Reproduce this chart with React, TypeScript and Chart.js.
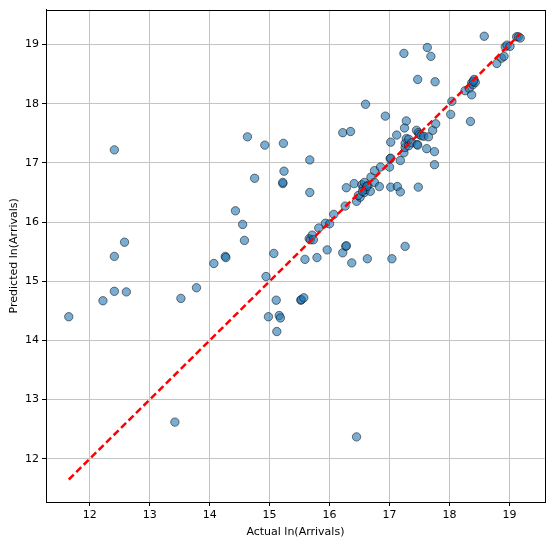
import React, { useEffect, useRef } from "react";
import { Chart, registerables } from "chart.js";

Chart.register(...registerables);

const actual: number[] = [
  11.65, 12.22, 12.41, 12.61, 12.41, 12.58, 12.41, 13.42, 13.52, 13.78,
  14.07, 14.26, 14.27, 14.43, 14.55, 14.58, 14.63, 14.75, 14.92, 14.94,
  14.98, 15.07, 15.11, 15.12, 15.16, 15.18, 15.23, 15.24, 15.22, 15.22,
  15.52, 15.53, 15.57, 15.59, 15.67, 15.67, 15.79, 15.96, 15.66, 15.68,
  15.71, 15.73, 15.82, 15.93, 16.0, 16.07, 16.22, 16.27, 16.28, 16.37,
  16.63, 17.04, 17.26, 16.45, 16.22, 16.35, 16.26, 16.28, 16.41, 16.45,
  16.51, 16.54, 16.56, 16.58, 16.58, 16.6, 16.64, 16.68, 16.69, 16.75,
  16.75, 16.83, 16.85, 17.0, 17.01, 17.02, 17.02, 17.13, 17.18, 17.18,
  17.48, 16.6, 16.93, 17.02, 17.12, 17.24, 17.25, 17.26, 17.26, 17.28,
  17.28, 17.32, 17.32, 17.37, 17.45, 17.46, 17.47, 17.48, 17.5, 17.53,
  17.57, 17.62, 17.65, 17.72, 17.77, 17.75, 17.75, 17.24, 17.47, 17.63,
  17.69, 17.76, 18.02, 18.04, 18.35, 18.26, 18.33, 18.37, 18.37, 18.39,
  18.41, 18.43, 18.4, 18.58, 18.79, 18.87, 18.91, 18.93, 18.96, 19.01,
  19.12, 19.15, 19.18, 16.48, 16.62, 16.55,
];

const predicted: number[] = [
  14.4, 14.67, 14.83, 14.82, 15.42, 15.66, 17.22, 12.62, 14.71, 14.89,
  15.3, 15.42, 15.4, 16.19, 15.96, 15.69, 17.44, 16.74, 17.3, 15.08,
  14.4, 15.47, 14.68, 14.15, 14.42, 14.38, 17.33, 16.86, 16.65, 16.67,
  14.68, 14.69, 14.72, 15.37, 17.05, 16.5, 15.4, 15.53, 15.72, 15.7,
  15.78, 15.7, 15.9, 15.98, 15.97, 16.13, 15.48, 15.59, 15.6, 15.31,
  15.38, 15.38, 15.59, 12.37, 17.51, 17.53, 16.27, 16.58, 16.65, 16.35,
  16.42, 16.63, 16.58, 16.67, 16.5, 16.55, 16.62, 16.52, 16.76, 16.67,
  16.87, 16.6, 16.93, 16.93, 17.07, 17.08, 16.59, 16.6, 16.51, 17.04,
  16.59, 17.99, 17.79, 17.35, 17.47, 17.17, 17.59, 17.26, 17.33, 17.71,
  17.41, 17.29, 17.4, 17.34, 17.55, 17.31, 17.3, 17.51, 17.48, 17.46,
  17.45, 17.24, 17.44, 17.55, 17.66, 17.19, 16.97, 18.85, 18.41, 18.95,
  18.8, 18.37, 17.82, 18.04, 17.7, 18.22, 18.26, 18.15, 18.35, 18.32,
  18.41, 18.36, 18.38, 19.14, 18.68, 18.77, 18.8, 18.96, 18.99, 18.97,
  19.13, 19.13, 19.11, 16.45, 16.6, 16.52,
];

const tickValues: number[] = [12, 13, 14, 15, 16, 17, 18, 19];
const axisMin = 11.27;
const axisMax = 19.59;

const FONT = "'DejaVu Sans', sans-serif";

const framePlugin = {
  id: "frame",
  afterDraw(chart: any) {
    const { ctx, chartArea } = chart;
    ctx.save();
    ctx.strokeStyle = "#000";
    ctx.lineWidth = 1;
    ctx.strokeRect(
      Math.round(chartArea.left) + 0.5,
      Math.round(chartArea.top) + 0.5,
      Math.round(chartArea.right - chartArea.left),
      Math.round(chartArea.bottom - chartArea.top)
    );
    ctx.restore();
  },
};

export default function App() {
  const ref = useRef<HTMLCanvasElement | null>(null);

  useEffect(() => {
    document.body.style.margin = "0";
    if (!ref.current) return;
    const points = actual.map((a, i) => ({ x: a, y: predicted[i] }));
    const lo = Math.min(...actual);
    const hi = Math.max(...actual);

    const axisCommon = (title: string, isX: boolean) => ({
      type: "linear" as const,
      min: axisMin,
      max: axisMax,
      afterBuildTicks: (scale: any) => {
        scale.ticks = tickValues.map((v) => ({ value: v }));
      },
      afterFit: (scale: any) => {
        if (isX) scale.height = 43;
        else scale.width = 46;
      },
      grid: {
        color: "#c4c4c4",
        lineWidth: 1,
        drawTicks: true,
        tickLength: 4,
        tickColor: "#000",
      },
      border: { display: true, color: "#000", width: 1 },
      ticks: {
        color: "#000",
        font: { family: FONT, size: 11 },
        padding: 3,
        maxRotation: 0,
        callback: (v: any) => String(v),
      },
      title: {
        display: true,
        text: title,
        color: "#000",
        font: { family: FONT, size: 11 },
        padding: isX ? { top: 2, bottom: 6.5 } : { top: 7.5, bottom: 2 },
      },
    });

    const chart = new Chart(ref.current, {
      type: "scatter",
      data: {
        datasets: [
          {
            type: "line",
            data: [
              { x: lo, y: lo },
              { x: hi, y: hi },
            ],
            borderColor: "#ff0000",
            borderWidth: 2.5,
            borderDash: [7, 3.5],
            pointRadius: 0,
            fill: false,
            order: 0,
          } as any,
          {
            data: points,
            backgroundColor: "rgba(31,119,180,0.6)",
            borderColor: "rgba(0,0,0,0.5)",
            borderWidth: 1,
            pointRadius: 4.2,
            order: 1,
          },
        ],
      },
      options: {
        responsive: false,
        animation: false,
        devicePixelRatio: 1,
        layout: { padding: { left: 0, right: 5, top: 6, bottom: 0 } },
        plugins: {
          legend: { display: false },
          tooltip: { enabled: false },
        },
        scales: {
          x: { ...axisCommon("Actual ln(Arrivals)", true), position: "bottom" },
          y: { ...axisCommon("Predicted ln(Arrivals)", false), position: "left" },
        },
      },
      plugins: [framePlugin],
    });
    return () => chart.destroy();
  }, []);

  return (
    <div style={{ position: "fixed", left: 0, top: 0, width: 550, height: 545, background: "#fff" }}>
      <canvas ref={ref} width={550} height={545} />
    </div>
  );
}
